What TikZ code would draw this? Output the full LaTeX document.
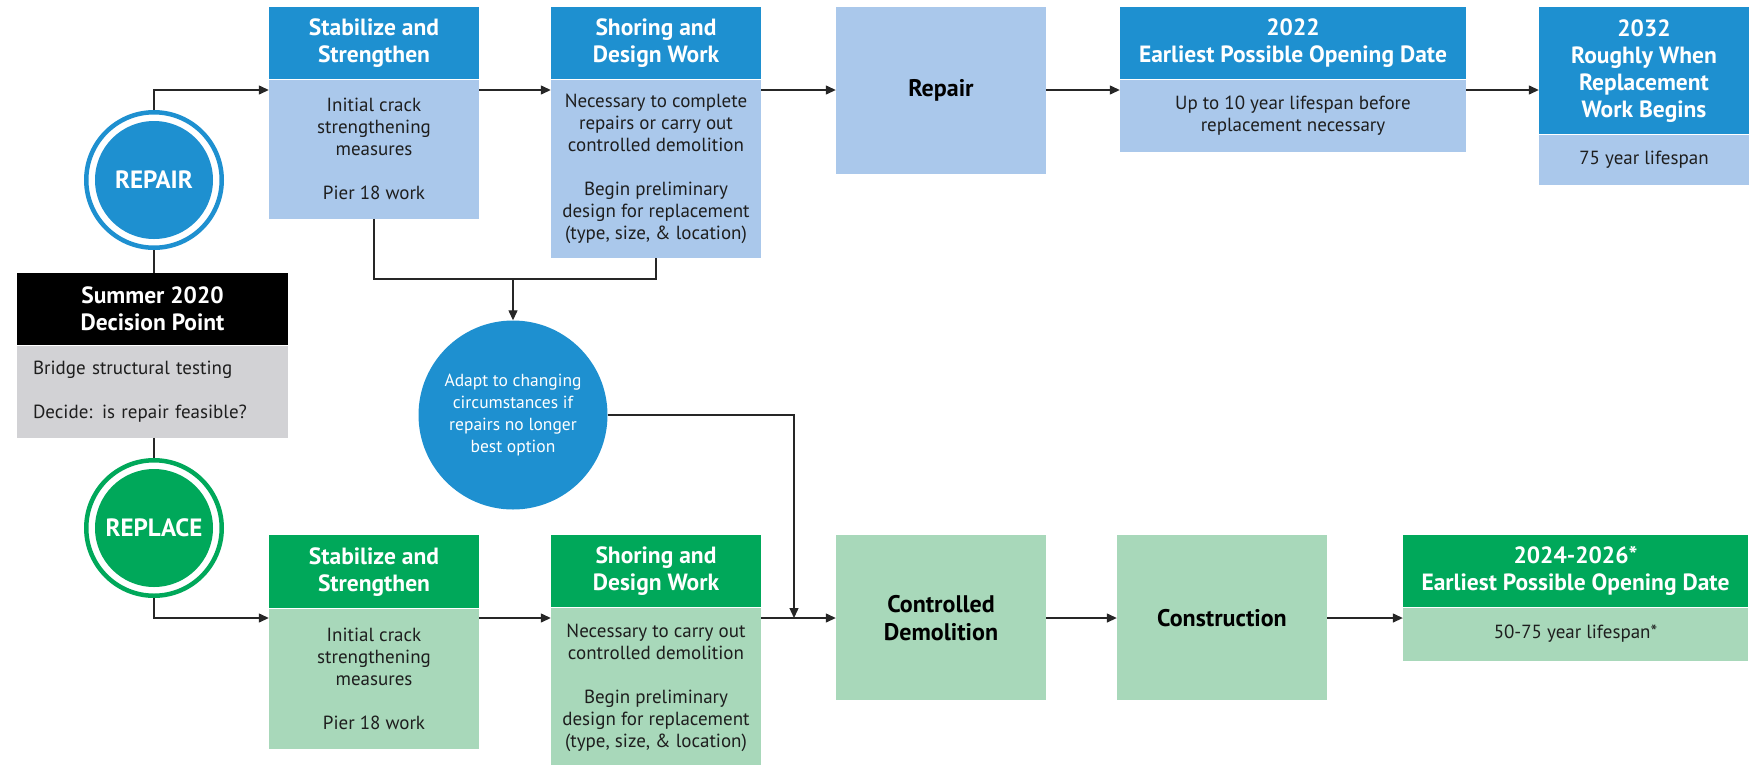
\documentclass[tikz,border=0pt]{standalone}
\usepackage{fontspec}
\setmainfont{PT Sans}
\usetikzlibrary{arrows.meta}

\definecolor{repblue}{HTML}{1E90D0}
\definecolor{replight}{HTML}{AAC8EB}
\definecolor{plgreen}{HTML}{00A85A}
\definecolor{pllight}{HTML}{A8D8BA}
\definecolor{decgray}{HTML}{D2D2D5}
\definecolor{inkgray}{HTML}{1E1E1E}

\begin{document}
\begin{tikzpicture}[x=1pt, y=-1pt, >={Triangle[length=10pt,width=9pt]},
		hdr/.style={rectangle, inner sep=0pt, anchor=north, align=center, text=white, font=\bfseries\fontsize{23.5}{27}\selectfont},
		bdy/.style={rectangle, inner sep=0pt, anchor=north, align=center, text=inkgray, font=\fontsize{19}{22}\selectfont},
		solo/.style={rectangle, inner sep=0pt, anchor=north, align=center, text=black, minimum width=210pt, minimum height=165pt, font=\bfseries\fontsize{24}{28}\selectfont},
		ring/.style={circle, minimum size=135.5pt, inner sep=0pt, draw=#1, line width=4.5pt, fill=white, text=white, font=\bfseries\fontsize{25}{28}\selectfont,
			path picture={\fill[#1] (path picture bounding box.center) circle (59pt);}},
		link/.style={draw=black!85, line width=1.3pt}]
			\useasboundingbox (0,0) rectangle (1759,764);

			% Decision and the two rings
			\node[ring=repblue] (repair) at (154,180) {REPAIR};
			\node[hdr, fill=black, minimum width=271pt, minimum height=72pt] (dec) at (152.5,273) {Summer 2020\\Decision Point};
			\node[bdy, fill=decgray, align=left, text width=239pt, inner xsep=16pt, minimum height=92pt] (decb) at (dec.south) {Bridge structural testing\\[22pt]Decide: is repair feasible?};
			\node[ring=plgreen] (replace) at (154,528) {REPLACE};

			% Repair row
			\node[hdr, fill=repblue, minimum width=210pt, minimum height=72pt] (rstab) at (374,7) {Stabilize and\\Strengthen};
			\node[bdy, fill=replight, minimum width=210pt, minimum height=139pt] (rstabb) at (rstab.south) {Initial crack\\strengthening\\measures\\[22pt]Pier 18 work};
			\node[hdr, fill=repblue, minimum width=210pt, minimum height=72pt] (rshor) at (656,7) {Shoring and\\Design Work};
			\node[bdy, fill=replight, minimum width=210pt, minimum height=178pt] (rshorb) at (rshor.south) {Necessary to complete\\repairs or carry out\\controlled demolition\\[22pt]Begin preliminary\\design for replacement\\(type, size, \& location)};
			\node[solo, fill=replight, minimum height=167pt] (rrep) at (941,7) {Repair};
			\node[hdr, fill=repblue, minimum width=346pt, minimum height=72pt] (ropen) at (1293,7) {2022\\Earliest Possible Opening Date};
			\node[bdy, fill=replight, minimum width=346pt, minimum height=72pt] (ropenb) at (ropen.south) {Up to 10 year lifespan before\\replacement necessary};
			\node[hdr, fill=repblue, minimum width=210pt, minimum height=127pt] (rbegin) at (1644,7) {2032\\Roughly When\\Replacement\\Work Begins};
			\node[bdy, fill=replight, minimum width=210pt, minimum height=50pt] (rbeginb) at (rbegin.south) {75 year lifespan};

			% Adapt circle
			\node[circle, fill=repblue, minimum size=189pt, inner sep=0pt, align=center, text=white, font=\fontsize{17.5}{22}\selectfont] (adapt) at (513,415) {Adapt to changing\\circumstances if\\repairs no longer\\best option};

			% Replace row
			\node[hdr, fill=plgreen, minimum width=210pt, minimum height=73pt] (pstab) at (374,535) {Stabilize and\\Strengthen};
			\node[bdy, fill=pllight, minimum width=210pt, minimum height=140pt] (pstabb) at (pstab.south) {Initial crack\\strengthening\\measures\\[22pt]Pier 18 work};
			\node[hdr, fill=plgreen, minimum width=210pt, minimum height=72pt] (pshor) at (656,535) {Shoring and\\Design Work};
			\node[bdy, fill=pllight, minimum width=210pt, minimum height=161pt] (pshorb) at (pshor.south) {Necessary to carry out\\controlled demolition\\[22pt]Begin preliminary\\design for replacement\\(type, size, \& location)};
			\node[solo, fill=pllight] (pdem) at (941,535) {Controlled\\Demolition};
			\node[solo, fill=pllight] (pcon) at (1222,535) {Construction};
			\node[hdr, fill=plgreen, minimum width=345pt, minimum height=72pt] (popen) at (1575.5,535) {2024-2026*\\Earliest Possible Opening Date};
			\node[bdy, fill=pllight, minimum width=345pt, minimum height=53pt] (popenb) at (popen.south) {50-75 year lifespan*};

			% Arrow rows
			\coordinate (toprow) at (0,90);
			\coordinate (botrow) at (0,618);
			\draw[link, ->] (repair.north) |- (rstabb.west |- toprow);
			\foreach \a/\b in {rstabb/rshorb, rshorb/rrep, rrep/ropenb, ropenb/rbegin}
				\draw[link, ->] (\a.east |- toprow) -- (\b.west |- toprow);
			\draw[link, ->] (replace.south) |- (pstabb.west |- botrow);
			\foreach \a/\b in {pstabb/pshorb, pshorb/pdem, pdem/pcon, pcon/popenb}
				\draw[link, ->] (\a.east |- botrow) -- (\b.west |- botrow);

			% Links through the decision point
			\draw[link] (repair.south) -- (repair.south |- dec.north);
			\draw[link] (replace.north |- decb.south) -- (replace.north);

			% Merge into adapt, then down to demolition
			\coordinate (merge) at (513,279);
			\coordinate (drop) at (794,618);
			\draw[link] (rstabb.south) |- (merge) -| (rshorb.south);
			\draw[link, ->] (merge) -- (adapt.north);
			\draw[link, ->] (adapt.east) -| (drop);

		\end{tikzpicture}
\end{document}
